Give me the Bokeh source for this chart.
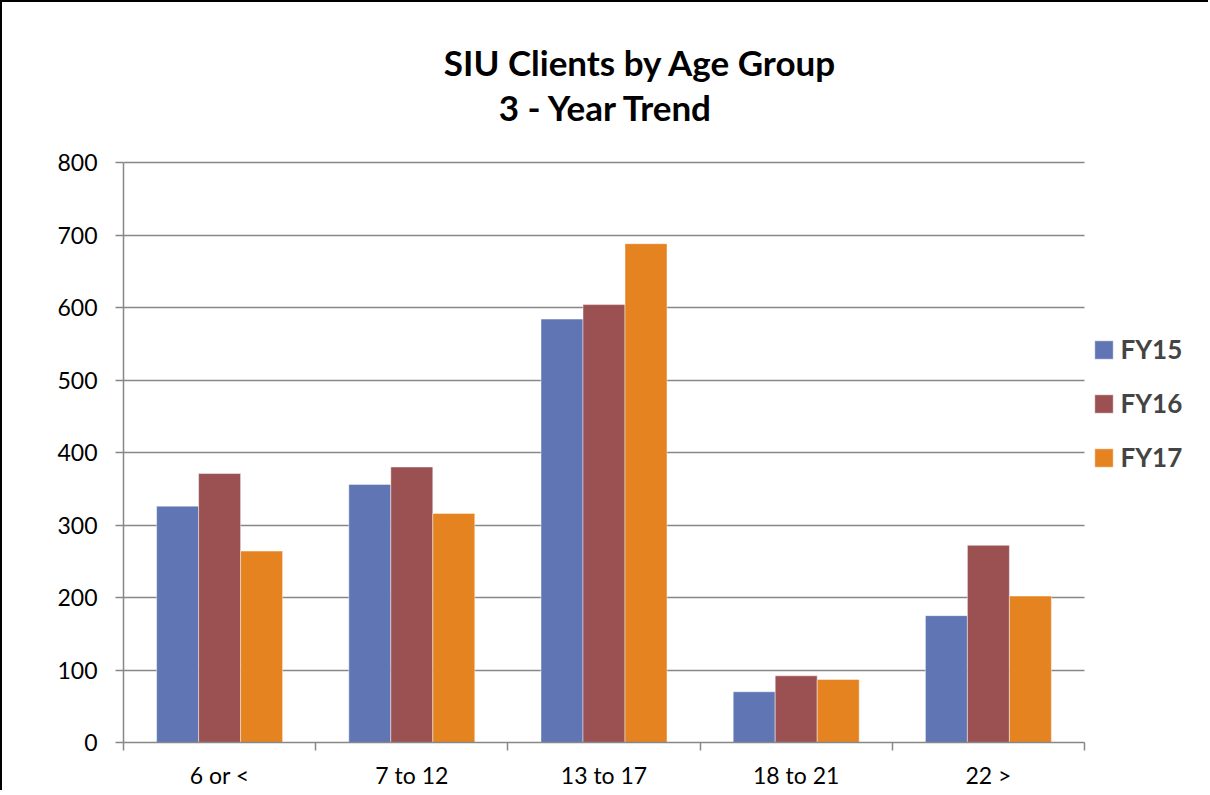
from bokeh.plotting import figure
from bokeh.models import Legend, LegendItem, FixedTicker, Label, Range1d
from bokeh.embed import file_html
from bokeh.resources import INLINE

categories = ["6 or <", "7 to 12", "13 to 17", "18 to 21", "22 >"]
series_names = ["FY15", "FY16", "FY17"]
fy15 = [326, 356, 584, 70, 175]
fy16 = [371, 380, 604, 92, 272]
fy17 = [264, 316, 688, 87, 202]
colors = ["#5F75B4", "#9B5152", "#E58321"]
y_ticks = [0, 100, 200, 300, 400, 500, 600, 700, 800]
title_lines = ["SIU Clients by Age Group", "3 - Year Trend"]

FONT = "Lato"
GRID = "#878787"

# layout (pixels)
W, H = 1208, 790
LEFT, BOTTOM = 121, 50
PLOT_W, PLOT_H = 961, 580          # pixel size of the 0..5 x 0..800 area
ncat = len(categories)
ymax = y_ticks[-1]
px_per_y = PLOT_H / ymax
px_per_x = PLOT_W / ncat
frame_h = H - BOTTOM
frame_w = W - LEFT
y_end = frame_h / px_per_y
x_end = frame_w / px_per_x

p = figure(width=W, height=H, x_range=Range1d(0, x_end), y_range=Range1d(0, y_end),
           output_backend="svg", toolbar_location=None, title=None,
           min_border_left=LEFT, min_border_right=0, min_border_top=0,
           min_border_bottom=BOTTOM)
p.styles = {"border-top": "2px solid black", "border-left": "2px solid black"}
p.outline_line_color = None

bw = 0.2185
renderers = []
for k, (name, vals, col) in enumerate(zip(series_names, [fy15, fy16, fy17], colors)):
    xs = [i + 0.5 + (k - 1) * bw for i in range(ncat)]
    r = p.vbar(x=xs, top=vals, width=bw, fill_color=col, line_color="white",
               line_alpha=0.45, line_width=1)
    renderers.append(r)

# y axis
p.yaxis.ticker = FixedTicker(ticks=y_ticks)
p.yaxis.bounds = (0, ymax)
p.yaxis.axis_line_color = GRID
p.yaxis.axis_line_width = 1.5
p.yaxis.major_tick_line_color = GRID
p.yaxis.major_tick_line_width = 1.5
p.yaxis.major_tick_out = 8
p.yaxis.major_tick_in = 0
p.yaxis.minor_tick_line_color = None
p.yaxis.major_label_text_font = FONT
p.yaxis.major_label_text_font_size = "23px"
p.yaxis.major_label_text_color = "black"
p.yaxis.major_label_standoff = 18

# x axis
centers = [i + 0.5 for i in range(ncat)]
p.xaxis.ticker = FixedTicker(ticks=centers, minor_ticks=list(range(ncat + 1)))
p.xaxis.bounds = (0, ncat)
p.xaxis.major_label_overrides = {c: lab for c, lab in zip(centers, categories)}
p.xaxis.axis_line_color = GRID
p.xaxis.axis_line_width = 1.5
p.xaxis.major_tick_line_color = None
p.xaxis.major_tick_out = 0
p.xaxis.major_tick_in = 0
p.xaxis.minor_tick_line_color = GRID
p.xaxis.minor_tick_line_width = 1.5
p.xaxis.minor_tick_out = 8
p.xaxis.minor_tick_in = 0
p.xaxis.major_label_text_font = FONT
p.xaxis.major_label_text_font_size = "23px"
p.xaxis.major_label_text_color = "black"
p.xaxis.major_label_standoff = 10

p.xgrid.visible = False
p.ygrid.grid_line_color = GRID
p.ygrid.grid_line_width = 1.5
p.ygrid.bounds = (0, ymax)
p.ygrid.cross_bounds = (0, ncat)

# titles (inside the frame, above the 800 line)
t1 = Label(x=(638 - LEFT) / px_per_x, y=(740 - 59) / px_per_y, text=title_lines[0],
           text_align="center", text_baseline="alphabetic", text_font=FONT,
           text_font_style="bold", text_font_size="35px", text_color="black")
t2 = Label(x=(604 - LEFT) / px_per_x, y=(740 - 104) / px_per_y, text=title_lines[1],
           text_align="center", text_baseline="alphabetic", text_font=FONT,
           text_font_style="bold", text_font_size="35px", text_color="black")
p.add_layout(t1)
p.add_layout(t2)

legend = Legend(items=[LegendItem(label=n, renderers=[r]) for n, r in zip(series_names, renderers)],
                location=(968.5, 269), orientation="vertical", glyph_width=23, glyph_height=23,
                label_standoff=6, spacing=22, padding=11, margin=0,
                border_line_color=None, background_fill_alpha=0,
                label_text_font=FONT, label_text_font_style="bold",
                label_text_font_size="26px")
p.add_layout(legend, "center")

open("out.html", "w").write(file_html(p, INLINE))
